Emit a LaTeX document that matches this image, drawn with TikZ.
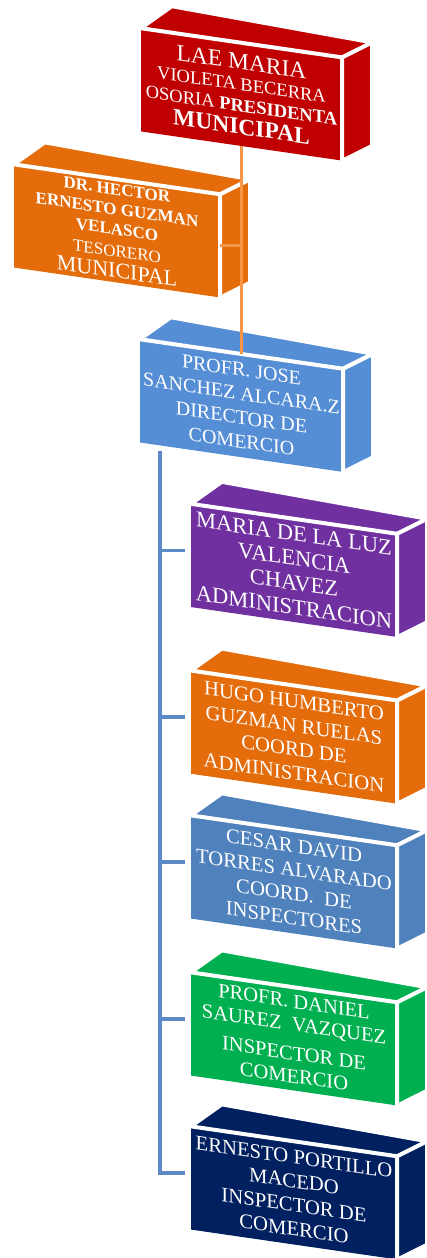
\documentclass[tikz,border=0pt]{standalone}
\usepackage{fontspec}
\setmainfont{Liberation Serif}
\usepackage{xcolor}
\usetikzlibrary{calc,positioning}
\definecolor{presred}{HTML}{C00000}
\definecolor{tesorange}{HTML}{E46C0A}
\definecolor{dirblue}{HTML}{558ED5}
\definecolor{admpurple}{HTML}{7030A0}
\definecolor{coordorange}{HTML}{E46C0A}
\definecolor{inspblue}{HTML}{4F81BD}
\definecolor{inspgreen}{HTML}{00B050}
\definecolor{inspnavy}{HTML}{002060}
\definecolor{linkorange}{HTML}{F79646}
\definecolor{linkblue}{HTML}{5B8AC6}
\newcommand{\fsz}[2]{\fontsize{#1}{#2}\selectfont}
\tikzset{%
	front/.style      = {rectangle, inner sep=0pt, minimum width=206pt, minimum height=103pt, yslant=-0.145, text=white, align=center}, % front face
	face/.style       = {draw=white, line width=4pt, line join=round}, % top and side faces
	orangelink/.style = {draw=linkorange, line width=3pt}, % upper connectors
	bluelink/.style   = {draw=linkblue, line width=3.5pt, shorten >=6pt}, % lower connectors
}

\begin{document}
\begin{tikzpicture}[x=1pt,y=1pt]
	\useasboundingbox (0,0) rectangle (426,-1258);
	\node [front, fill=presred, minimum width=201pt, font=\fsz{18.5}{21}] (pres) at (241.5,-94.5) {\fsz{23.5}{23.5}LAE MARIA\\ VIOLETA BECERRA\\ OSORIA \textbf{PRESIDENTA}\\[2pt] \fsz{23.5}{23.5}\textbf{MUNICIPAL}};
	\node [front, fill=tesorange, font=\fsz{17}{20}] (tes) at (117,-231) {\textbf{DR. HECTOR}\\ \textbf{ERNESTO GUZMAN}\\ \textbf{VELASCO}\\[2pt] TESORERO\\[1pt] \fsz{22}{22}MUNICIPAL};
	\node [front, fill=dirblue, minimum width=203pt, font=\fsz{20}{24}] (dir) at (241.5,-405.7) {PROFR. JOSE\\ SANCHEZ ALCARA.Z\\ DIRECTOR DE\\ COMERCIO};
	\node [front, fill=admpurple, font=\fsz{22.5}{24.5}] (adm) at (294,-570.5) {MARIA DE LA LUZ\\ VALENCIA\\ CHAVEZ\\ ADMINISTRACION};
	\node [front, fill=coordorange, font=\fsz{20.7}{24}] (coord) at (294,-737.2) {HUGO HUMBERTO\\ GUZMAN RUELAS\\ COORD DE\\ ADMINISTRACION};
	\node [front, fill=inspblue, font=\fsz{20.7}{24}] (insp) at (294,-882) {CESAR DAVID\\ TORRES ALVARADO\\ COORD.\ \ DE\\ INSPECTORES};
	\node [front, fill=inspgreen, font=\fsz{20.5}{23}] (daniel) at (294,-1039) {PROFR. DANIEL\\ SAUREZ\ \ VAZQUEZ\\[6pt] INSPECTOR DE\\ COMERCIO};
	\node [front, fill=inspnavy, font=\fsz{20.7}{24}] (macedo) at (294,-1193) {ERNESTO PORTILLO\\ MACEDO\\ INSPECTOR DE\\ COMERCIO};
	% top and side of each box
	\foreach \n/\c in {pres/presred, tes/tesorange, dir/dirblue, adm/admpurple, coord/coordorange, insp/inspblue, daniel/inspgreen, macedo/inspnavy} {
		\filldraw [face, fill=\c] (\n.north west) -- ++(31,22) -- ($(\n.north east)+(30,15)$) -- (\n.north east) -- cycle;
		\filldraw [face, fill=\c] (\n.north east) -- ++(30,15) -- ($(\n.south east)+(30,15)$) -- (\n.south east) -- cycle;
	}
	\draw [orangelink] (pres.south) -- (dir.north);
	\draw [orangelink] (tes.east) -- (tes.east -| pres.south);
	\coordinate (trunk) at ($(dir.south west)+(20,-8)$);
	\foreach \n in {adm,coord,insp,daniel,macedo}
		\draw [bluelink] (trunk) |- ($(\n.west)+(0,5)$);
\end{tikzpicture}
\end{document}
